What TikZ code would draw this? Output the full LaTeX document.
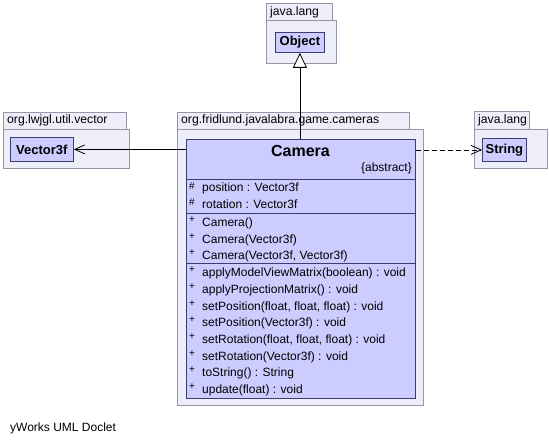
\documentclass[tikz,border=0pt]{standalone}
\usepackage{fontspec}
\setmainfont{Liberation Sans}
\usetikzlibrary{arrows.meta}
\definecolor{pkgfill}{RGB}{238,238,250}
\definecolor{pkgline}{RGB}{150,150,168}
\definecolor{classfill}{RGB}{204,204,255}
\definecolor{classline}{RGB}{60,60,110}
\tikzset{
  pkg/.style={draw=pkgline, fill=pkgfill, line width=0.8pt},
  pkglabel/.style={anchor=west, inner sep=0pt, font=\fontsize{12.2}{14}\selectfont},
  classbox/.style={draw=classline, fill=classfill, line width=0.8pt, inner sep=0pt,
    anchor=north west, font=\bfseries\fontsize{13}{15}\selectfont},
  member/.style={anchor=west, inner sep=0pt, font=\fontsize{12}{14}\selectfont},
  vis/.style={anchor=west, inner sep=0pt, font=\fontsize{10}{12}\selectfont},
  divider/.style={draw=classline, line width=0.8pt},
  inherit/.style={-{Triangle[open, length=15pt, width=14pt, fill=white]}, line width=0.8pt},
  assoc/.style={-{Straight Barb[length=10pt, width=9pt]}, line width=0.8pt},
  depend/.style={-{Straight Barb[length=10pt, width=9pt]}, dashed, dash pattern=on 5pt off 3pt, line width=0.8pt}
}
\begin{document}
\begin{tikzpicture}[x=1pt, y=-1pt]
  \useasboundingbox[fill=white] (0,0) rectangle (549,444);

  % packages
  \draw[pkg] (266,20) rectangle (336,63);
  \draw[pkg] (266,3) rectangle (332,20);
  \node[pkglabel] (pkgtop) at (270,12) {java.lang};

  \draw[pkg] (3,129) rectangle (129,168);
  \draw[pkg] (3,112) rectangle (126,129);
  \node[pkglabel] (pkgvec) at (7,120.5) {org.lwjgl.util.vector};

  \draw[pkg] (177,129) rectangle (423,405);
  \draw[pkg] (177,112) rectangle (409,129);
  \node[pkglabel] (pkgcam) at (181,120.5) {org.fridlund.javalabra.game.cameras};

  \draw[pkg] (474,129) rectangle (547,168);
  \draw[pkg] (474,111) rectangle (529,129);
  \node[pkglabel] (pkgright) at (478,120) {java.lang};

  % classes
  \node[classbox, minimum width=49pt, minimum height=20pt] (object) at (275,32) {Object};
  \node[classbox, minimum width=63pt, minimum height=24pt] (vector) at (10,137) {Vector3f};
  \node[classbox, minimum width=44pt, minimum height=23pt] (string) at (482,138) {String};
  \node[classbox, minimum width=229pt, minimum height=259pt] (camera) at (186,139) {};

  \node[inner sep=0pt, font=\bfseries\fontsize{16}{18}\selectfont] (title) at (300.5,151) {Camera};
  \node[member, anchor=east] (abstract) at (412,168) {\{abstract\}};

  \draw[divider] (186,179) -- (415,179);
  \draw[divider] (186,213) -- (415,213);
  \draw[divider] (186,263) -- (415,263);

  % attributes
  \node[vis] (v1) at (189,186) {\#};
  \node[member] (a1) at (202,188) {position : Vector3f};
  \node[vis] (v2) at (189,202) {\#};
  \node[member] (a2) at (202,204) {rotation : Vector3f};

  % constructors
  \node[vis] (v3) at (189,220) {+};
  \node[member] (c1) at (202,223) {Camera()};
  \node[vis] (v4) at (189,237) {+};
  \node[member] (c2) at (202,240) {Camera(Vector3f)};
  \node[vis] (v5) at (189,253) {+};
  \node[member] (c3) at (202,256) {Camera(Vector3f, Vector3f)};

  % methods
  \node[vis] (v6) at (189,270) {+};
  \node[member] (m1) at (202,273) {applyModelViewMatrix(boolean) : void};
  \node[vis] (v7) at (189,287) {+};
  \node[member] (m2) at (202,290) {applyProjectionMatrix() : void};
  \node[vis] (v8) at (189,304) {+};
  \node[member] (m3) at (202,307) {setPosition(float, float, float) : void};
  \node[vis] (v9) at (189,320) {+};
  \node[member] (m4) at (202,323) {setPosition(Vector3f) : void};
  \node[vis] (v10) at (189,337) {+};
  \node[member] (m5) at (202,340) {setRotation(float, float, float) : void};
  \node[vis] (v11) at (189,354) {+};
  \node[member] (m6) at (202,357) {setRotation(Vector3f) : void};
  \node[vis] (v12) at (189,370) {+};
  \node[member] (m7) at (202,373) {toString() : String};
  \node[vis] (v13) at (189,387) {+};
  \node[member] (m8) at (202,390) {update(float) : void};

  % relations
  \draw[inherit] (camera.north -| object.south) -- (object.south);
  \draw[assoc] (vector.east -| camera.west) -- (vector.east);
  \draw[depend] (string.west -| camera.east) -- (string.west);

  \node[member] (doclet) at (10,428) {yWorks UML Doclet};
\end{tikzpicture}
\end{document}
